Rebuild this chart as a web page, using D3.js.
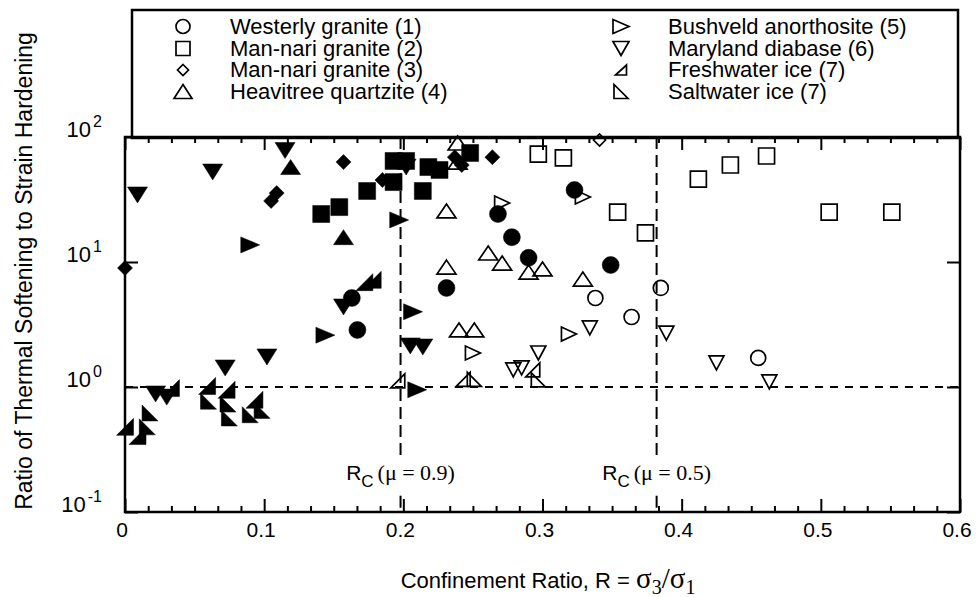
<!DOCTYPE html>
<html>
<head>
<meta charset="utf-8">
<script src="https://cdn.jsdelivr.net/npm/d3@7"></script>
<style>
body { margin: 0; background: #fff; }
svg { display: block; }
text { font-family: "Liberation Sans", Arial, sans-serif; fill: #000; }
</style>
</head>
<body>
<svg width="976" height="597"></svg>
<script>
// [R, ratio] pairs
const westerlyOpen = [[0.338,5.15],[0.364,3.63],[0.385,6.2],[0.455,1.71]];
const westerlyFilled = [[0.163,5.15],[0.167,2.86],[0.231,6.2],[0.268,24.2],[0.278,15.8],[0.290,10.8],[0.323,37.7],[0.349,9.46]];
const mannari2Open = [[0.297,73],[0.315,68],[0.354,25.1],[0.374,17.1],[0.412,46.1],[0.435,59.7],[0.461,70.5],[0.506,25.1],[0.551,25.1]];
const mannari2Filled = [[0.141,24.2],[0.154,27.5],[0.174,37],[0.193,43.6],[0.193,64.3],[0.202,64.3],[0.214,37],[0.218,57.5],[0.226,54.5],[0.248,74.5]];
const mannari3Open = [[0.341,94.6]];
const mannari3Filled = [[0.0,8.95],[0.105,30.8],[0.109,35.6],[0.157,63],[0.185,45.3],[0.237,69],[0.242,59.7],[0.264,69]];
const heavitreeOpen = [[0.231,9.1],[0.231,25.6],[0.239,63],[0.239,89.5],[0.240,2.86],[0.251,2.86],[0.261,11.8],[0.271,9.8],[0.290,8.3],[0.300,8.8],[0.329,7.3]];
const heavitreeFilled = [[0.119,57.5],[0.157,15.8]];
const bushveldOpen = [[0.250,1.87],[0.271,29.6],[0.319,2.65],[0.329,33.1]];
const bushveldFilled = [[0.090,13.7],[0.144,2.6],[0.197,21.7],[0.207,4.0],[0.210,0.95]];
const marylandOpen = [[0.279,1.37],[0.285,1.42],[0.297,1.87],[0.334,2.97],[0.389,2.7],[0.425,1.56],[0.463,1.1]];
const marylandFilled = [[0.009,34.4],[0.022,0.88],[0.030,0.83],[0.063,52.5],[0.072,1.42],[0.102,1.74],[0.115,78],[0.157,4.37],[0.202,57.5],[0.205,2.13],[0.214,2.09]];
const freshOpen = [[0.196,1.12],[0.243,1.15],[0.293,1.37]];
const freshFilled = [[0.0,0.48],[0.009,0.405],[0.033,0.98],[0.059,1.02],[0.073,0.95],[0.093,0.79],[0.172,6.9],[0.178,7.2]];
const saltOpen = [[0.251,1.15],[0.297,1.14]];
const saltFilled = [[0.016,0.48],[0.018,0.62],[0.060,0.77],[0.074,0.73],[0.075,0.565],[0.090,0.60],[0.0985,0.65]];

const legendLabels = ["Westerly granite (1)", "Man-nari granite (2)", "Man-nari granite (3)", "Heavitree quartzite (4)",
                      "Bushveld anorthosite (5)", "Maryland diabase (6)", "Freshwater ice (7)", "Saltwater ice (7)"];
const legendShapes = ["circle", "square", "diamond", "up", "right", "down", "fresh", "salt"];
const xTicks = [0, 0.1, 0.2, 0.3, 0.4, 0.5, 0.6];
const yTicks = [0.1, 1, 10, 100];
const rcValues = [0.198, 0.382];
const rcLabels = ["(\u03bc = 0.9)", "(\u03bc = 0.5)"];

var series = [
    { shape: "circle", filled: false, data: westerlyOpen },
    { shape: "circle", filled: true, data: westerlyFilled },
    { shape: "square", filled: false, data: mannari2Open },
    { shape: "square", filled: true, data: mannari2Filled },
    { shape: "diamond", filled: false, data: mannari3Open },
    { shape: "diamond", filled: true, data: mannari3Filled },
    { shape: "up", filled: false, data: heavitreeOpen },
    { shape: "up", filled: true, data: heavitreeFilled },
    { shape: "right", filled: false, data: bushveldOpen },
    { shape: "right", filled: true, data: bushveldFilled },
    { shape: "down", filled: false, data: marylandOpen },
    { shape: "down", filled: true, data: marylandFilled },
    { shape: "fresh", filled: false, data: freshOpen },
    { shape: "fresh", filled: true, data: freshFilled },
    { shape: "salt", filled: false, data: saltOpen },
    { shape: "salt", filled: true, data: saltFilled }
];

// marker width / height
var filledSize = { circle: [17,17], square: [17,17], diamond: [15,15], up: [20,15], down: [20,16], right: [19,16], fresh: [17,17], salt: [16,16] };
var openSize = { circle: [15,15], square: [16,16], diamond: [12,12], up: [19,14], down: [15,14], right: [15,14], fresh: [14,14], salt: [14,14] };
var legendSize = { circle: [14,14], square: [14,14], diamond: [11,11], up: [18,14], right: [16,14], down: [16,14], fresh: [11,10], salt: [14,14] };

function shapePath(shape, w, h) {
    var a = w / 2, b = h / 2;
    switch (shape) {
        case "circle": return d3.symbol(d3.symbolCircle, Math.PI * a * a)();
        case "square": return `M${-a},${-b}h${w}v${h}h${-w}Z`;
        case "diamond": return `M0,${-b}L${a},0L0,${b}L${-a},0Z`;
        case "up": return `M0,${-b}L${a},${b}L${-a},${b}Z`;
        case "down": return `M0,${b}L${a},${-b}L${-a},${-b}Z`;
        case "right": return `M${a},0L${-a},${b}L${-a},${-b}Z`;
        case "fresh": return `M${a},${-b}L${a},${b}L${-a},${b}Z`;
        case "salt": return `M${-a},${-b}L${-a},${b}L${a},${b}Z`;
    }
}

var svg = d3.select("svg");

var xScale = d3.scaleLinear().domain([0, 0.6]).range([125, 960]);
var yScale = d3.scaleLog().domain([0.1, 100]).range([512, 137]);

// legend box (sits on top of the plot frame)
svg.append("rect")
    .attr("x", 132).attr("y", 10)
    .attr("width", 826).attr("height", 128)
    .attr("fill", "none").attr("stroke", "#000").attr("stroke-width", 2.5);

var legendCols = [[183, 230], [621, 668]];
var legendRows = [26.5, 48.5, 70, 91.5];
legendLabels.forEach((label, i) => {
    var col = legendCols[Math.floor(i / 4)];
    var cy = legendRows[i % 4];
    var sz = legendSize[legendShapes[i]];
    svg.append("path")
        .attr("transform", `translate(${col[0]},${cy})`)
        .attr("d", shapePath(legendShapes[i], sz[0], sz[1]))
        .attr("fill", "none").attr("stroke", "#000").attr("stroke-width", 1.7);
    svg.append("text")
        .attr("x", col[1]).attr("y", cy + 7)
        .style("font-size", "22px")
        .text(label);
});

// dashed reference lines
svg.append("line")
    .attr("x1", xScale(0)).attr("x2", xScale(0.6))
    .attr("y1", yScale(1)).attr("y2", yScale(1))
    .attr("stroke", "#000").attr("stroke-width", 2).attr("stroke-dasharray", "8,7");

rcValues.forEach((rc, i) => {
    [[100, 0.28], [0.135, 0.1]].forEach(seg => {
        svg.append("line")
            .attr("x1", xScale(rc)).attr("x2", xScale(rc))
            .attr("y1", yScale(seg[0])).attr("y2", yScale(seg[1]))
            .attr("stroke", "#000").attr("stroke-width", 2).attr("stroke-dasharray", "12,6");
    });
    var t = svg.append("text")
        .attr("x", xScale(rc)).attr("y", yScale(0.18))
        .attr("text-anchor", "middle");
    t.append("tspan").style("font-size", "21px").text("R");
    t.append("tspan").style("font-size", "17px").attr("dy", 7).text("C");
    t.append("tspan").style("font-size", "22px").style("font-family", "'Liberation Serif', 'Times New Roman', serif")
        .attr("dy", -7).attr("dx", 4).text(rcLabels[i]);
});

// data markers
series.forEach(s => {
    var sz = s.filled ? filledSize[s.shape] : openSize[s.shape];
    svg.append("g").selectAll("path")
        .data(s.data)
        .join("path")
        .attr("transform", d => `translate(${xScale(d[0])},${yScale(d[1])})`)
        .attr("d", shapePath(s.shape, sz[0], sz[1]))
        .attr("fill", s.filled ? "#000" : "none")
        .attr("stroke", "#000")
        .attr("stroke-width", s.filled ? 0.5 : 1.7);
});

// frame and inward ticks
var minorX = d3.range(0, 37).filter(i => i % 6 != 0).map(i => i / 60);

function tickStyle(g) {
    g.select(".domain").remove();
    g.selectAll(".tick line").attr("stroke", "#000").attr("stroke-width", 2);
}

svg.append("g").attr("transform", `translate(0,${yScale(0.1)})`)
    .call(d3.axisBottom(xScale).tickValues(minorX).tickSize(-6).tickFormat("")).call(tickStyle);
svg.append("g").attr("transform", `translate(0,${yScale(0.1)})`)
    .call(d3.axisBottom(xScale).tickValues(xTicks).tickSize(-13).tickFormat("")).call(tickStyle);
svg.append("g").attr("transform", `translate(0,${yScale(100)})`)
    .call(d3.axisTop(xScale).tickValues(minorX).tickSize(-6).tickFormat("")).call(tickStyle);
svg.append("g").attr("transform", `translate(0,${yScale(100)})`)
    .call(d3.axisTop(xScale).tickValues(xTicks).tickSize(-13).tickFormat("")).call(tickStyle);
svg.append("g").attr("transform", `translate(${xScale(0)},0)`)
    .call(d3.axisLeft(yScale).tickValues(yTicks).tickSize(-13).tickFormat("")).call(tickStyle);
svg.append("g").attr("transform", `translate(${xScale(0.6)},0)`)
    .call(d3.axisRight(yScale).tickValues(yTicks).tickSize(-13).tickFormat("")).call(tickStyle);

svg.append("rect")
    .attr("x", xScale(0)).attr("y", yScale(100))
    .attr("width", xScale(0.6) - xScale(0)).attr("height", yScale(0.1) - yScale(100))
    .attr("fill", "none").attr("stroke", "#000").attr("stroke-width", 2.5);

// tick labels
xTicks.forEach(v => {
    svg.append("text")
        .attr("x", xScale(v) - 3).attr("y", yScale(0.1) + 25)
        .attr("text-anchor", "middle")
        .style("font-size", "21px")
        .text(v === 0 ? "0" : v.toFixed(1));
});

yTicks.forEach(v => {
    var t = svg.append("text")
        .attr("x", xScale(0) - 23).attr("y", yScale(v))
        .attr("text-anchor", "end")
        .style("font-size", "22px");
    t.append("tspan").text("10");
    t.append("tspan").attr("dy", -10).attr("dx", 2).style("font-size", "16px")
        .text(Math.round(Math.log10(v)));
});

// axis titles
svg.append("text")
    .attr("transform", "translate(32,271) rotate(-90)")
    .attr("text-anchor", "middle")
    .style("font-size", "23px")
    .text("Ratio of Thermal Softening to Strain Hardening");

var xt = svg.append("text")
    .attr("x", 548).attr("y", 588)
    .attr("text-anchor", "middle");
xt.append("tspan").style("font-size", "22px").text("Confinement Ratio, R = ");
var serif = "'Liberation Serif', 'Times New Roman', serif";
xt.append("tspan").style("font-family", serif).style("font-size", "29px").text("\u03c3");
xt.append("tspan").style("font-family", serif).style("font-size", "20px").attr("dy", 6).text("3");
xt.append("tspan").style("font-family", serif).style("font-size", "29px").attr("dy", -6).text("/\u03c3");
xt.append("tspan").style("font-family", serif).style("font-size", "20px").attr("dy", 6).text("1");
</script>
</body>
</html>
